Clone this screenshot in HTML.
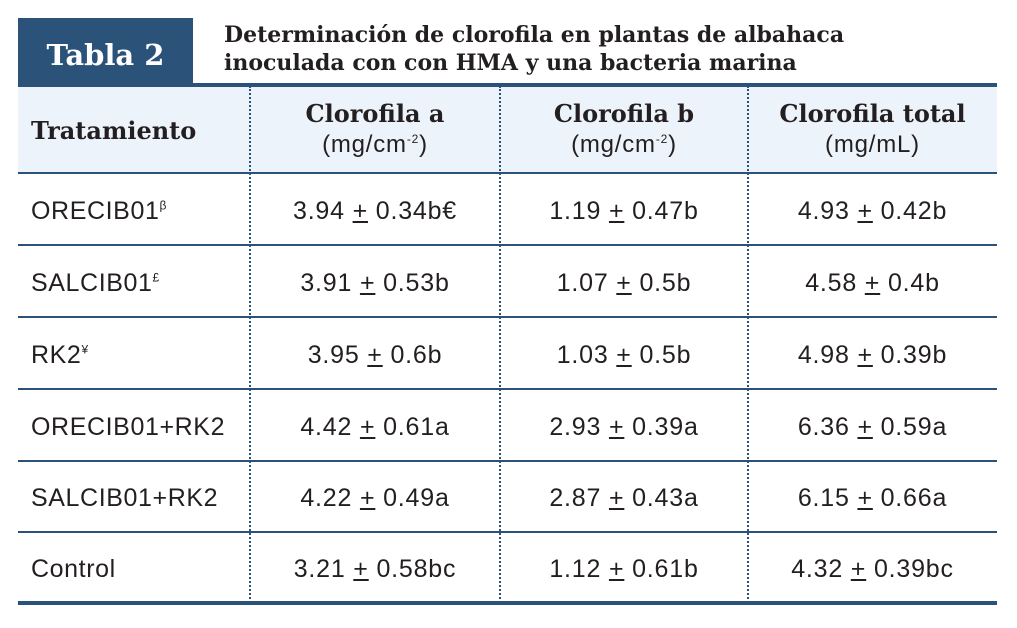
<!DOCTYPE html>
<html><head><meta charset="utf-8"><style>
body{margin:0;width:1017px;height:628px;background:#fff;position:relative;overflow:hidden;font-family:"Liberation Sans",sans-serif;color:#231f20}
.tab{position:absolute;left:18px;top:18px;width:175px;height:68px;background:#2b5278;color:#fff;font:bold 29px "DejaVu Serif",serif;display:flex;align-items:center;justify-content:center;padding-top:6px;box-sizing:border-box}
.title{position:absolute;left:224px;top:21px;font:bold 22px/28px "DejaVu Serif",serif;color:#231f20;white-space:nowrap}
.hl{position:absolute;left:18px;width:979px}
.hdr{position:absolute;left:18px;top:86px;width:979px;height:86px;background:#edf3fa}
.v{position:absolute;top:86px;height:517px;border-left:2px dotted #2b5278}
.c{position:absolute;text-align:center;font-size:25px;letter-spacing:0.8px;white-space:nowrap}
.l{position:absolute;left:31px;font-size:25px;letter-spacing:0.6px}
.h{position:absolute;text-align:center;font:bold 24px/30px "DejaVu Serif",serif;white-space:nowrap}
.h span{font:normal 24px "Liberation Sans",sans-serif;letter-spacing:0.8px}
sup{font-size:12px}
u{text-decoration:underline;text-underline-offset:2px}
</style></head><body>
<div class="tab">Tabla 2</div>
<div class="title">Determinación de clorofila en plantas de albahaca<br>inoculada con con HMA y una bacteria marina</div>
<div class="hdr"></div>
<div class="hl" style="top:83px;height:4px;background:#2b5278"></div>
<div class="hl" style="top:172px;height:2px;background:#2b5278"></div>
<div class="hl" style="top:244px;height:2px;background:#2b5278"></div>
<div class="hl" style="top:316px;height:2px;background:#2b5278"></div>
<div class="hl" style="top:388px;height:2px;background:#2b5278"></div>
<div class="hl" style="top:460px;height:2px;background:#2b5278"></div>
<div class="hl" style="top:531px;height:2px;background:#2b5278"></div>
<div class="hl" style="top:601px;height:4px;background:#2b5278"></div>
<div class="v" style="left:249px"></div>
<div class="v" style="left:499px"></div>
<div class="v" style="left:747px"></div>
<div class="h" style="left:31px;top:116px;text-align:left">Tratamiento</div>
<div class="h" style="left:250px;width:250px;top:99px">Clorofila a<br><span>(mg/cm<sup>-2</sup>)</span></div>
<div class="h" style="left:500px;width:248px;top:99px">Clorofila b<br><span>(mg/cm<sup>-2</sup>)</span></div>
<div class="h" style="left:748px;width:249px;top:99px">Clorofila total<br><span>(mg/mL)</span></div>

<div class="l" style="top:197px">ORECIB01<sup>β</sup></div>
<div class="c" style="left:250px;width:250px;top:197px">3.94 <u>+</u> 0.34b€</div>
<div class="c" style="left:500px;width:248px;top:197px">1.19 <u>+</u> 0.47b</div>
<div class="c" style="left:748px;width:249px;top:197px">4.93 <u>+</u> 0.42b</div>

<div class="l" style="top:269px">SALCIB01<sup>£</sup></div>
<div class="c" style="left:250px;width:250px;top:269px">3.91 <u>+</u> 0.53b</div>
<div class="c" style="left:500px;width:248px;top:269px">1.07 <u>+</u> 0.5b</div>
<div class="c" style="left:748px;width:249px;top:269px">4.58 <u>+</u> 0.4b</div>

<div class="l" style="top:341px">RK2<sup>¥</sup></div>
<div class="c" style="left:250px;width:250px;top:341px">3.95 <u>+</u> 0.6b</div>
<div class="c" style="left:500px;width:248px;top:341px">1.03 <u>+</u> 0.5b</div>
<div class="c" style="left:748px;width:249px;top:341px">4.98 <u>+</u> 0.39b</div>

<div class="l" style="top:413px">ORECIB01+RK2</div>
<div class="c" style="left:250px;width:250px;top:413px">4.42 <u>+</u> 0.61a</div>
<div class="c" style="left:500px;width:248px;top:413px">2.93 <u>+</u> 0.39a</div>
<div class="c" style="left:748px;width:249px;top:413px">6.36 <u>+</u> 0.59a</div>

<div class="l" style="top:484px">SALCIB01+RK2</div>
<div class="c" style="left:250px;width:250px;top:484px">4.22 <u>+</u> 0.49a</div>
<div class="c" style="left:500px;width:248px;top:484px">2.87 <u>+</u> 0.43a</div>
<div class="c" style="left:748px;width:249px;top:484px">6.15 <u>+</u> 0.66a</div>

<div class="l" style="top:555px">Control</div>
<div class="c" style="left:250px;width:250px;top:555px">3.21 <u>+</u> 0.58bc</div>
<div class="c" style="left:500px;width:248px;top:555px">1.12 <u>+</u> 0.61b</div>
<div class="c" style="left:748px;width:249px;top:555px">4.32 <u>+</u> 0.39bc</div>
</body></html>
